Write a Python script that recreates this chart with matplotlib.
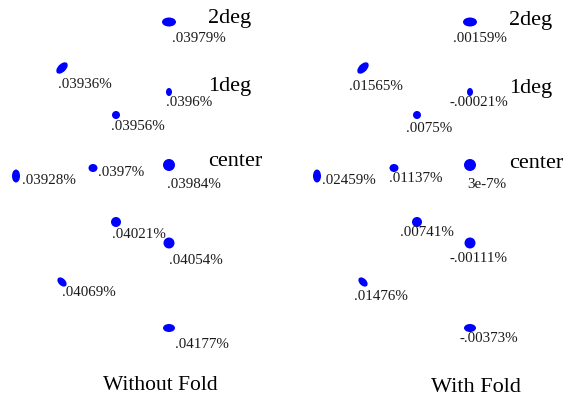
import matplotlib.pyplot as plt
from matplotlib.patches import Ellipse

# spot centres on the image plane (same field points for both cases)
field_x = [169, 62, 169, 116, 16, 93, 169, 116, 169, 62, 169]
field_y = [22, 68, 92, 115, 176, 168, 165, 222, 243, 282, 328]

# spot footprint: width, height, tilt
spot_w = [14, 14, 6, 8, 8, 9, 12, 10, 11, 11, 12]
spot_h = [9, 8, 8, 8, 13, 8, 12, 10, 11, 7, 8]
spot_a = [0, -45, 0, 0, 0, 0, 0, 0, 0, 45, 0]

# distortion at each spot
no_fold = ['.03979%', '.03936%', '.0396%', '.03956%', '.03928%', '.0397%',
           '.03984%', '.04021%', '.04054%', '.04069%', '.04177%']
fold = ['.00159%', '.01565%', '-.00021%', '.0075%', '.02459%', '.01137%',
        '3e-7%', '.00741%', '-.00111%', '.01476%', '-.00373%']

field_names = ['2deg', '1deg', 'center']
field_name_y = [18, 86, 162]
panel_titles = ['Without Fold', 'With Fold']

# label placement relative to each spot (left edge, vertical centre)
off_nofold = [(3, 15), (-4, 15), (-3, 10), (-5, 11), (6, 4), (5, 4),
              (-2, 18), (-4, 11), (0, 17), (0, 10), (6, 15)]
off_fold = [(-17, 15), (-14, 17), (-20, 10), (-11, 13), (5, 4), (-5, 9),
            (-3, 18), (-17, 10), (-20, 15), (-9, 14), (-10, 10)]

fig = plt.figure(figsize=(5.74, 4.0), dpi=100)
ax = fig.add_axes([0, 0, 1, 1])
ax.set_xlim(0, 574)
ax.set_ylim(400, 0)
ax.axis('off')

serif = 'Liberation Serif'
panels = [(0, no_fold, off_nofold), (301, fold, off_fold)]
for p, (shift, labels, offs) in enumerate(panels):
    for i in range(len(field_x)):
        x = field_x[i] + shift
        y = field_y[i]
        ax.add_patch(Ellipse((x, y), spot_w[i], spot_h[i], angle=spot_a[i],
                             color='#0000ff', lw=0))
        ax.text(x + offs[i][0], y + offs[i][1] + 1, labels[i], family=serif,
                fontsize=10.8, ha='left', va='center', color='#1a1a1a')
    for name, ny in zip(field_names, field_name_y):
        ax.text(208 + shift, ny + 2 * p, name, family=serif, fontsize=16,
                ha='left', va='center', color='black')

ax.text(160, 386, panel_titles[0], family=serif, fontsize=15.5,
        ha='center', va='center')
ax.text(476, 388, panel_titles[1], family=serif, fontsize=16,
        ha='center', va='center')

fig.savefig('out.png', dpi=100)
